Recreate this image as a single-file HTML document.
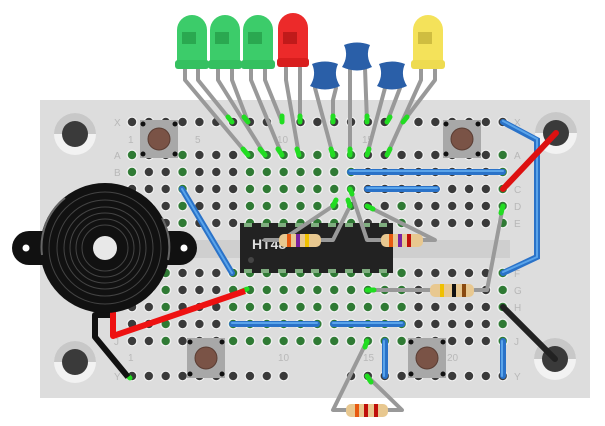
<!DOCTYPE html>
<html><head><meta charset="utf-8"><style>
html,body{margin:0;padding:0;background:#fff;width:605px;height:426px;overflow:hidden}
svg{display:block}
text{font-family:"Liberation Sans",sans-serif}
</style></head><body>
<svg width="605" height="426" viewBox="0 0 605 426" xmlns="http://www.w3.org/2000/svg">
<defs>
<pattern id="dA" x="123.6" y="146.5" width="16.85" height="17" patternUnits="userSpaceOnUse">
<circle cx="8.42" cy="8.5" r="5.3" fill="#f4f4f4"/><circle cx="8.42" cy="8.5" r="4.2" fill="#3a3a3a"/></pattern>
<pattern id="dX" x="123.6" y="113.5" width="16.85" height="17" patternUnits="userSpaceOnUse">
<circle cx="8.42" cy="8.5" r="5.3" fill="#f4f4f4"/><circle cx="8.42" cy="8.5" r="4.2" fill="#3a3a3a"/></pattern>
<pattern id="dF" x="123.6" y="264.5" width="16.85" height="17" patternUnits="userSpaceOnUse">
<circle cx="8.42" cy="8.5" r="5.3" fill="#f4f4f4"/><circle cx="8.42" cy="8.5" r="4.2" fill="#3a3a3a"/></pattern>
<pattern id="dY" x="123.6" y="367.5" width="16.85" height="17" patternUnits="userSpaceOnUse">
<circle cx="8.42" cy="8.5" r="5.3" fill="#f4f4f4"/><circle cx="8.42" cy="8.5" r="4.2" fill="#3a3a3a"/></pattern>
<pattern id="gA" x="123.6" y="146.5" width="16.85" height="17" patternUnits="userSpaceOnUse">
<circle cx="8.42" cy="8.5" r="5.3" fill="#f4f4f4"/><circle cx="8.42" cy="8.5" r="4.2" fill="#2f7a34"/></pattern>
<pattern id="gF" x="123.6" y="264.5" width="16.85" height="17" patternUnits="userSpaceOnUse">
<circle cx="8.42" cy="8.5" r="5.3" fill="#f4f4f4"/><circle cx="8.42" cy="8.5" r="4.2" fill="#2f7a34"/></pattern>
</defs>
<rect x="40" y="100" width="550" height="298" fill="#dddddd"/>
<rect x="120" y="240" width="390" height="18" fill="#cfcfcf"/>
<rect x="123.6" y="113.5" width="151.7" height="17" fill="url(#dX)"/>
<rect x="292.1" y="113.5" width="101.1" height="17" fill="url(#dX)"/>
<rect x="409.9" y="113.5" width="101.1" height="17" fill="url(#dX)"/>
<rect x="123.6" y="146.5" width="387.6" height="85" fill="url(#dA)"/>
<rect x="123.6" y="264.5" width="387.6" height="85" fill="url(#dF)"/>
<rect x="123.6" y="367.5" width="168.5" height="17" fill="url(#dY)"/>
<rect x="342.7" y="367.5" width="168.5" height="17" fill="url(#dY)"/>
<rect x="174" y="146.5" width="16.85" height="85" fill="url(#gA)"/>
<rect x="241.4" y="146.5" width="117.95" height="85" fill="url(#gA)"/>
<rect x="393" y="197.5" width="16.85" height="34" fill="url(#gA)"/>
<rect x="494.1" y="146.5" width="16.85" height="85" fill="url(#gA)"/>
<rect x="224.5" y="264.5" width="185.35" height="85" fill="url(#gF)"/>
<rect x="157.15" y="264.5" width="16.85" height="85" fill="url(#gF)"/>
<rect x="494.1" y="264.5" width="16.85" height="85" fill="url(#gF)"/>
<rect x="123.6" y="146.5" width="16.85" height="34" fill="url(#gA)"/>
<g font-size="10" fill="#b8b8b8">
<text x="114" y="126">X</text><text x="114" y="159">A</text><text x="114" y="176">B</text>
<text x="114" y="345">J</text><text x="114" y="380">Y</text>
<text x="514" y="126">X</text><text x="514" y="159">A</text><text x="514" y="193">C</text><text x="514" y="210">D</text><text x="514" y="227">E</text>
<text x="514" y="277">F</text><text x="514" y="294">G</text><text x="514" y="311">H</text><text x="514" y="345">J</text><text x="514" y="380">Y</text>
<text x="128" y="143">1</text><text x="195" y="143">5</text><text x="277" y="143">10</text><text x="362" y="143">15</text>
<text x="128" y="361">1</text><text x="278" y="361">10</text><text x="363" y="361">15</text><text x="447" y="361">20</text>
</g>
<g>
<circle cx="75" cy="134" r="21" fill="#f2f2f2"/><path d="M54 134 A21 21 0 0 1 96 134Z" fill="#c8c8c8"/><circle cx="75" cy="134" r="13" fill="#3a3a3a"/>
<circle cx="556" cy="133" r="21" fill="#f2f2f2"/><path d="M535 133 A21 21 0 0 1 577 133Z" fill="#c8c8c8"/><circle cx="556" cy="133" r="13" fill="#3a3a3a"/>
<circle cx="75" cy="362" r="21" fill="#f2f2f2"/><path d="M54 362 A21 21 0 0 1 96 362Z" fill="#c8c8c8"/><circle cx="75" cy="362" r="13" fill="#3a3a3a"/>
<circle cx="555" cy="359" r="21" fill="#f2f2f2"/><path d="M534 359 A21 21 0 0 1 576 359Z" fill="#c8c8c8"/><circle cx="555" cy="359" r="13" fill="#3a3a3a"/>
</g>
<g>
<rect x="140" y="120" width="38" height="38" fill="#a8a8a8"/><circle cx="159" cy="139" r="11" fill="#7a5346" stroke="#5a3d33"/>
<circle cx="143" cy="124" r="2.5" fill="#111"/><circle cx="175" cy="124" r="2.5" fill="#111"/><circle cx="143" cy="154" r="2.5" fill="#111"/><circle cx="175" cy="154" r="2.5" fill="#111"/>
<rect x="443" y="120" width="38" height="38" fill="#a8a8a8"/><circle cx="462" cy="139" r="11" fill="#7a5346" stroke="#5a3d33"/>
<circle cx="446" cy="124" r="2.5" fill="#111"/><circle cx="478" cy="124" r="2.5" fill="#111"/><circle cx="446" cy="154" r="2.5" fill="#111"/><circle cx="478" cy="154" r="2.5" fill="#111"/>
<rect x="187" y="338" width="38" height="40" fill="#a8a8a8"/><circle cx="206" cy="358" r="11" fill="#7a5346" stroke="#5a3d33"/>
<circle cx="190" cy="342" r="2.5" fill="#111"/><circle cx="222" cy="342" r="2.5" fill="#111"/><circle cx="190" cy="374" r="2.5" fill="#111"/><circle cx="222" cy="374" r="2.5" fill="#111"/>
<rect x="408" y="338" width="38" height="40" fill="#a8a8a8"/><circle cx="427" cy="358" r="11" fill="#7a5346" stroke="#5a3d33"/>
<circle cx="411" cy="342" r="2.5" fill="#111"/><circle cx="443" cy="342" r="2.5" fill="#111"/><circle cx="411" cy="374" r="2.5" fill="#111"/><circle cx="443" cy="374" r="2.5" fill="#111"/>
</g>
<rect x="240" y="223" width="153" height="50" fill="#222"/>
<g fill="#7fae7f">
<rect x="244" y="223" width="8" height="4"/><rect x="261" y="223" width="8" height="4"/><rect x="278" y="223" width="8" height="4"/><rect x="295" y="223" width="8" height="4"/><rect x="311" y="223" width="8" height="4"/><rect x="328" y="223" width="8" height="4"/><rect x="345" y="223" width="8" height="4"/><rect x="362" y="223" width="8" height="4"/><rect x="379" y="223" width="8" height="4"/>
<rect x="244" y="269" width="8" height="4"/><rect x="261" y="269" width="8" height="4"/><rect x="278" y="269" width="8" height="4"/><rect x="295" y="269" width="8" height="4"/><rect x="311" y="269" width="8" height="4"/><rect x="328" y="269" width="8" height="4"/><rect x="345" y="269" width="8" height="4"/><rect x="362" y="269" width="8" height="4"/><rect x="379" y="269" width="8" height="4"/>
</g>
<circle cx="251" cy="260" r="3" fill="#444"/>
<text x="252" y="249" font-size="14" font-weight="bold" fill="#ddd">HT48</text>
<g stroke="#2a72c8" stroke-width="6" stroke-linecap="round" fill="none">
<path d="M182 189 L232 273"/><path d="M350 172 L503 172"/><path d="M367 189 L437 189"/>
<path d="M503 122 L537 140 L537 257 L503 273"/>
<path d="M232 324 L317 324"/><path d="M333 324 L402 324"/>
<path d="M385 341 L385 376"/><path d="M503 341 L503 376"/>
</g>
<g stroke="#5aa4ea" stroke-width="2" stroke-linecap="round" fill="none">
<path d="M182 189 L232 273"/><path d="M350 171 L503 171"/><path d="M367 188 L437 188"/><path d="M503 121 L537 139 L537 257 L503 272"/>
<path d="M232 323 L317 323"/><path d="M333 323 L402 323"/><path d="M384 341 L384 376"/><path d="M502 341 L502 376"/>
</g>
<path d="M503 189 L556 133" stroke="#d11" stroke-width="6" stroke-linecap="round"/>
<path d="M503 307 L555 359" stroke="#222" stroke-width="6" stroke-linecap="round"/>
<g stroke="#999" stroke-width="4" fill="none" stroke-linecap="round" stroke-linejoin="round">
<path d="M265 240 L282 240 M320 240 L333 240 L350 206"/>
<path d="M333 206 L282 240"/>
<path d="M350 189 L367 240 L385 240 M420 240 L435 240 L367 206"/>
<path d="M367 290 L430 290 M475 290 L487 290 L503 206"/>
<path d="M367 341 L333 410 L402 410 L367 376"/>
</g>
<g>
<rect x="279" y="234" width="42" height="13" rx="5" fill="#e8c890"/><rect x="287" y="234" width="4" height="13" fill="#e85a10"/><rect x="296" y="234" width="4" height="13" fill="#7a22a0"/><rect x="305" y="234" width="4" height="13" fill="#f0c000"/>
<rect x="381" y="234" width="42" height="13" rx="5" fill="#e8c890"/><rect x="389" y="234" width="4" height="13" fill="#e85a10"/><rect x="398" y="234" width="4" height="13" fill="#7a22a0"/><rect x="407" y="234" width="4" height="13" fill="#c0100a"/>
<rect x="430" y="284" width="44" height="13" rx="5" fill="#e8c890"/><rect x="440" y="284" width="4" height="13" fill="#f0c000"/><rect x="452" y="284" width="4" height="13" fill="#111"/><rect x="462" y="284" width="4" height="13" fill="#8a4a10"/>
<rect x="346" y="404" width="42" height="13" rx="5" fill="#e8c890"/><rect x="355" y="404" width="4" height="13" fill="#e85a10"/><rect x="364" y="404" width="4" height="13" fill="#c0100a"/><rect x="374" y="404" width="4" height="13" fill="#c0100a"/>
</g>
<g stroke="#999" stroke-width="4" fill="none" stroke-linecap="round" stroke-linejoin="round">
<path d="M185 68 L185 80 L248 155"/><path d="M198 68 L198 80 L232 122"/>
<path d="M218 68 L218 80 L265 155"/><path d="M232 68 L232 80 L248 122"/>
<path d="M251 68 L251 80 L282 155"/><path d="M265 68 L265 80 L282 122"/>
<path d="M286 68 L286 80 L299 155"/><path d="M300 68 L300 122"/>
<path d="M315 88 L333 155"/><path d="M336 88 L333 100 L333 122"/>
<path d="M350 68 L350 155"/><path d="M365 68 L367 122"/>
<path d="M385 88 L367 155"/><path d="M400 88 L387 122"/>
<path d="M421 68 L421 80 L387 155"/><path d="M435 68 L435 80 L403 122"/>
</g>
<g stroke="#22dd22" stroke-width="5" stroke-linecap="round">
<path d="M243 149 L248 155"/><path d="M260 149 L265 155"/><path d="M278 149 L282 155"/><path d="M297 149 L299 155"/><path d="M331 149 L333 155"/><path d="M350 149 L350 155"/><path d="M369 149 L367 155"/><path d="M390 149 L387 155"/>
<path d="M228 117 L232 122"/><path d="M244 117 L248 122"/><path d="M282 116 L282 122"/><path d="M300 116 L300 122"/><path d="M333 116 L333 122"/><path d="M367 116 L367 122"/><path d="M390 117 L387 122"/><path d="M407 117 L403 122"/>
<path d="M348 200 L350 206"/><path d="M336 200 L333 206"/><path d="M352 194 L350 189"/><path d="M373 209 L367 206"/>
<path d="M503 206 L501 213"/><path d="M367 290 L374 290"/><path d="M367 341 L365 347"/><path d="M367 376 L371 382"/>
<path d="M125 373 L130 378"/><path d="M240 292 L247 289"/>
</g>
<g>
<path d="M110 315 L95 315 L95 337 L128 377" stroke="#111" stroke-width="6" fill="none" stroke-linejoin="round"/>
<path d="M113 310 L113 336 L245 291" stroke="#e11" stroke-width="6" fill="none" stroke-linejoin="round"/>
<rect x="12" y="231" width="185" height="34" rx="17" fill="#111"/>
<circle cx="26" cy="248" r="3.5" fill="#fff"/><circle cx="184" cy="248" r="3.5" fill="#fff"/>
<circle cx="105" cy="248" r="65" fill="#111"/>
<g fill="none" stroke="#444" stroke-width="1">
<circle cx="105" cy="248" r="56"/><circle cx="105" cy="248" r="48"/><circle cx="105" cy="248" r="41"/><circle cx="105" cy="248" r="35"/><circle cx="105" cy="248" r="29"/><circle cx="105" cy="248" r="23"/>
</g>
<path d="M42 255 A63 63 0 0 1 65 198" stroke="#666" stroke-width="2" fill="none"/>
<path d="M162 218 A63 63 0 0 1 168 260" stroke="#666" stroke-width="2" fill="none"/>
<circle cx="105" cy="248" r="12" fill="#e8e8e8"/>
</g>
<g>
<path d="M177 68 L177 30 A15 15 0 0 1 207 30 L207 68 Z" fill="#3ccc6a"/><rect x="175" y="60" width="34" height="9" rx="3" fill="#35c060"/><rect x="182" y="32" width="14" height="12" fill="#2aa850"/>
<path d="M210 68 L210 30 A15 15 0 0 1 240 30 L240 68 Z" fill="#3ccc6a"/><rect x="208" y="60" width="34" height="9" rx="3" fill="#35c060"/><rect x="215" y="32" width="14" height="12" fill="#2aa850"/>
<path d="M243 68 L243 30 A15 15 0 0 1 273 30 L273 68 Z" fill="#3ccc6a"/><rect x="241" y="60" width="34" height="9" rx="3" fill="#35c060"/><rect x="248" y="32" width="14" height="12" fill="#2aa850"/>
<path d="M278 66 L278 28 A15 15 0 0 1 308 28 L308 66 Z" fill="#ec2a2a"/><rect x="277" y="58" width="32" height="9" rx="3" fill="#d81e1e"/><rect x="283" y="32" width="14" height="12" fill="#c01a1a"/>
<path d="M413 68 L413 30 A15 15 0 0 1 443 30 L443 68 Z" fill="#f4e25a"/><rect x="411" y="60" width="34" height="9" rx="3" fill="#eedb50"/><rect x="418" y="32" width="14" height="12" fill="#cfbd40"/>
</g>
<g fill="#2a5fa8">
<path d="M312 64 Q325 59 338 64 Q333 75 340 86 Q325 93 310 86 Q317 75 312 64Z"/>
<path d="M344 45 Q357 40 370 45 Q365 56 372 67 Q357 74 342 67 Q349 56 344 45Z"/>
<path d="M379 64 Q392 59 405 64 Q400 75 407 86 Q392 93 377 86 Q384 75 379 64Z"/>
</g>
</svg>
</body></html>
